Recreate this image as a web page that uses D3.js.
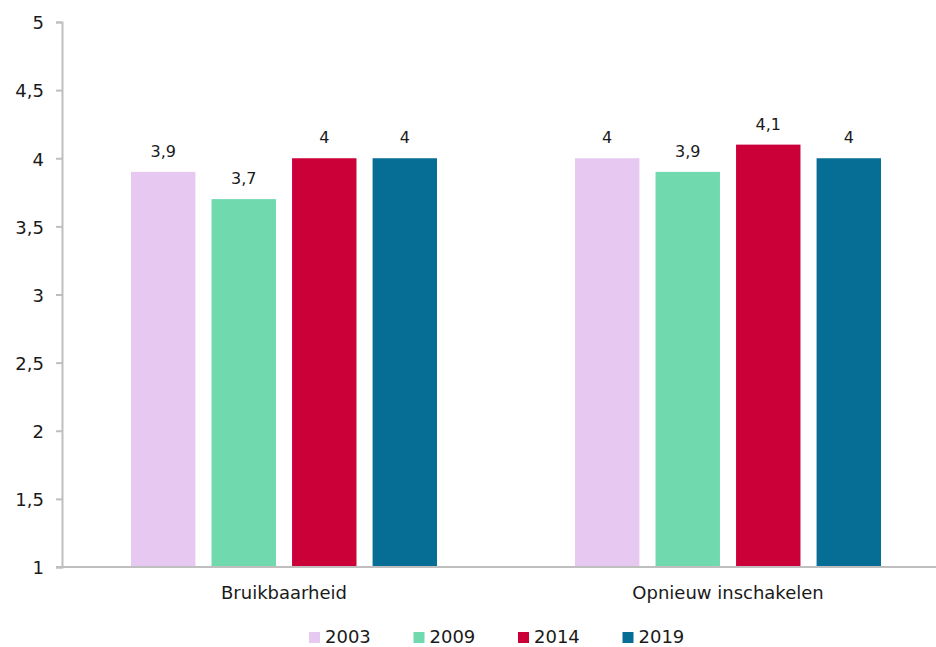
<!DOCTYPE html>
<html><head><meta charset="utf-8">
<script src="https://cdn.jsdelivr.net/npm/d3@7"></script>
<style>body{margin:0;background:#fff}svg{display:block}text{font-family:"DejaVu Sans",Verdana,sans-serif;fill:#1a1a1a}</style>
</head><body>
<script>
const categories = ["Bruikbaarheid", "Opnieuw inschakelen"];
const years = ["2003", "2009", "2014", "2019"];
const values2003 = [3.9, 4.0];
const values2009 = [3.7, 3.9];
const values2014 = [4.0, 4.1];
const values2019 = [4.0, 4.0];
const yTicks = [1, 1.5, 2, 2.5, 3, 3.5, 4, 4.5, 5];
const colors = ["#e6c8f0", "#70d9ae", "#cc0039", "#066e94"];

const series = [values2003, values2009, values2014, values2019];
const W = 936, H = 647;
const FONT = '"DejaVu Sans",Verdana,sans-serif';
const svg = d3.select("body").append("svg").attr("width", W).attr("height", H);
const fmt = v => String(v).replace(".", ",");

const y = d3.scaleLinear().domain([1, 5]).range([567, 22]);
const x0 = d3.scaleBand().domain(categories).range([62, 950]).paddingInner(0).paddingOuter(0);
const x1 = d3.scaleBand().domain(years).range([69, x0.bandwidth() - 69]).paddingInner(0.2).paddingOuter(0);

// bars
categories.forEach((c, ci) => {
  const g = svg.append("g").attr("transform", `translate(${x0(c)},0)`);
  years.forEach((yr, si) => {
    const v = series[si][ci];
    g.append("rect").attr("x", x1(yr)).attr("width", x1.bandwidth())
      .attr("y", y(v)).attr("height", y(1) - y(v)).attr("fill", colors[si]);
    g.append("text").attr("x", x1(yr) + x1.bandwidth() / 2).attr("y", y(v) - 15)
      .attr("text-anchor", "middle").attr("font-size", 16).text(fmt(v));
  });
});

// y axis
const ya = svg.append("g").attr("transform", "translate(62,0)")
  .call(d3.axisLeft(y).tickValues(yTicks).tickSize(6).tickPadding(12).tickFormat(fmt));
ya.select(".domain").attr("stroke", "#bfbfbf").attr("stroke-width", 2);
ya.selectAll(".tick line").attr("stroke", "#bfbfbf").attr("stroke-width", 2);
ya.selectAll(".tick text").attr("font-size", 18).attr("dy", "0.38em").attr("font-family", FONT).attr("fill", "#1a1a1a");

// x axis
const xa = svg.append("g").attr("transform", "translate(0,567)")
  .call(d3.axisBottom(x0).tickSize(0).tickPadding(19));
xa.select(".domain").attr("stroke", "#bfbfbf").attr("stroke-width", 2).attr("d", "M56,0H950");
xa.selectAll(".tick text").attr("font-size", 18).attr("font-family", FONT).attr("fill", "#1a1a1a");

// legend
const lx = d3.scaleBand().domain(years).range([309, 727]);
const lg = svg.append("g");
years.forEach((yr, i) => {
  lg.append("rect").attr("x", lx(yr)).attr("y", 632).attr("width", 11).attr("height", 11).attr("fill", colors[i]);
  lg.append("text").attr("x", lx(yr) + 16).attr("y", 643).attr("font-size", 18).text(yr);
});
</script>
</body></html>
